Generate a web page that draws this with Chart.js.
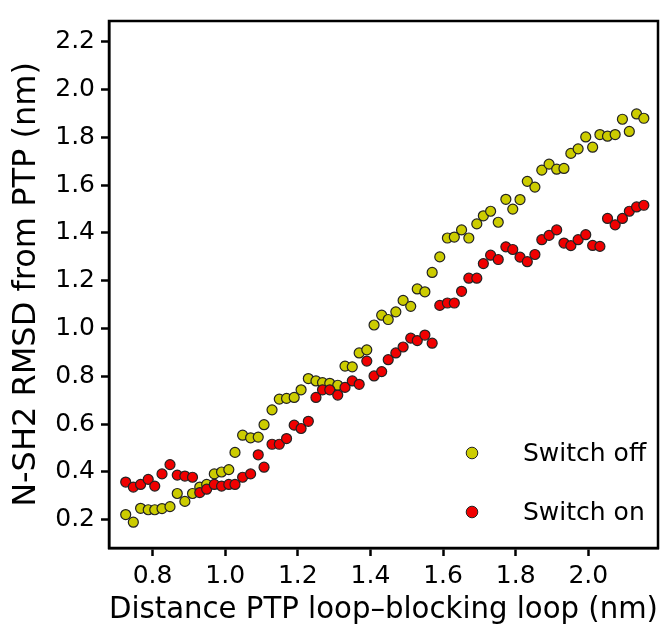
<!DOCTYPE html>
<html>
<head>
    <title>N-SH2 RMSD vs PTP loop distance</title>
    <script src="https://cdn.jsdelivr.net/npm/chart.js@4.4.0/dist/chart.umd.min.js"></script>
    <style>
        html, body { margin: 0; padding: 0; background: #fff; }
    </style>
</head>
<body>
    <canvas id="myChart" width="672" height="633"></canvas>

    <script>
        // Data (nm)
        const distance = [
            0.726, 0.747, 0.767, 0.788, 0.806, 0.826, 0.848, 0.868, 0.889, 0.910,
            0.930, 0.949, 0.970, 0.990, 1.010, 1.027, 1.048, 1.070, 1.091, 1.107,
            1.129, 1.149, 1.169, 1.190, 1.209, 1.229, 1.250, 1.268, 1.288, 1.310,
            1.330, 1.350, 1.369, 1.390, 1.410, 1.431, 1.449, 1.470, 1.490, 1.511,
            1.529, 1.550, 1.570, 1.591, 1.612, 1.631, 1.651, 1.671, 1.693, 1.711,
            1.731, 1.752, 1.773, 1.792, 1.812, 1.832, 1.853, 1.872, 1.892, 1.913,
            1.933, 1.952, 1.972, 1.993, 2.012, 2.032, 2.053, 2.074, 2.094, 2.113,
            2.133, 2.153
        ];
        const switchOff = [
            0.222, 0.190, 0.248, 0.242, 0.242, 0.247, 0.255, 0.310, 0.277, 0.310,
            0.337, 0.348, 0.392, 0.400, 0.410, 0.482, 0.554, 0.543, 0.546, 0.598,
            0.660, 0.705, 0.708, 0.712, 0.744, 0.791, 0.781, 0.774, 0.771, 0.763,
            0.843, 0.840, 0.898, 0.911, 1.015, 1.056, 1.038, 1.070, 1.118, 1.093,
            1.166, 1.154, 1.235, 1.300, 1.379, 1.383, 1.413, 1.379, 1.438, 1.472,
            1.491, 1.445, 1.541, 1.500, 1.540, 1.616, 1.592, 1.663, 1.688, 1.667,
            1.670, 1.733, 1.752, 1.802, 1.759, 1.812, 1.805, 1.812, 1.876, 1.825,
            1.898, 1.880
        ];
        const switchOn = [
            0.358, 0.337, 0.348, 0.369, 0.341, 0.392, 0.431, 0.387, 0.383, 0.378,
            0.314, 0.328, 0.348, 0.341, 0.348, 0.348, 0.378, 0.392, 0.472, 0.420,
            0.516, 0.516, 0.540, 0.596, 0.582, 0.612, 0.712, 0.744, 0.744, 0.722,
            0.754, 0.781, 0.767, 0.864, 0.802, 0.820, 0.870, 0.898, 0.923, 0.960,
            0.950, 0.973, 0.939, 1.097, 1.107, 1.107, 1.156, 1.211, 1.211, 1.272,
            1.307, 1.289, 1.342, 1.331, 1.299, 1.280, 1.310, 1.372, 1.390, 1.413,
            1.358, 1.347, 1.372, 1.393, 1.348, 1.344, 1.461, 1.434, 1.461, 1.491,
            1.509, 1.516
        ];
        const seriesNames = ['Switch off', 'Switch on'];
        const xTicks = [0.8, 1.0, 1.2, 1.4, 1.6, 1.8, 2.0];
        const yTicks = [0.2, 0.4, 0.6, 0.8, 1.0, 1.2, 1.4, 1.6, 1.8, 2.0, 2.2];

        const toPoints = ys => ys.map((y, i) => ({ x: distance[i], y: y }));
        const font = 'DejaVu Sans';

        // box around the plot area
        const frame = {
            id: 'frame',
            afterDraw(chart) {
                const { ctx, chartArea: a } = chart;
                ctx.save();
                ctx.strokeStyle = '#000';
                ctx.lineWidth = 2.5;
                ctx.strokeRect(a.left, a.top, a.right - a.left, a.bottom - a.top);
                ctx.restore();
            }
        };

        // legend drawn inside the lower right corner
        const insideLegend = {
            id: 'insideLegend',
            afterDatasetsDraw(chart) {
                const { ctx, chartArea: a } = chart;
                ctx.save();
                chart.data.datasets.forEach((ds, i) => {
                    const cx = a.right - 186;
                    const cy = a.bottom - 95 + i * 59;
                    ctx.beginPath();
                    ctx.arc(cx, cy, 5.8, 0, Math.PI * 2);
                    ctx.fillStyle = ds.backgroundColor;
                    ctx.fill();
                    ctx.lineWidth = 1;
                    ctx.strokeStyle = '#222';
                    ctx.stroke();
                    ctx.fillStyle = '#000';
                    ctx.font = '25px "' + font + '"';
                    ctx.textBaseline = 'middle';
                    ctx.textAlign = 'left';
                    ctx.fillText(ds.label, a.right - 135, cy + 1);
                });
                ctx.restore();
            }
        };

        const data = {
            datasets: [{
                label: seriesNames[0],
                data: toPoints(switchOff),
                backgroundColor: 'rgb(204, 204, 0)',
                borderColor: '#222',
                borderWidth: 1.2,
                pointRadius: 5,
                order: 1
            }, {
                label: seriesNames[1],
                data: toPoints(switchOn),
                backgroundColor: 'rgb(240, 0, 0)',
                borderColor: '#222',
                borderWidth: 1.2,
                pointRadius: 5,
                order: 0
            }]
        };

        const config = {
            type: 'scatter',
            data: data,
            plugins: [frame, insideLegend],
            options: {
                responsive: false,
                animation: false,
                layout: { padding: { top: 13, right: 14, left: 0, bottom: 0 } },
                plugins: {
                    legend: { display: false },
                    tooltip: { enabled: false }
                },
                scales: {
                    x: {
                        type: 'linear',
                        min: 0.68,
                        max: 2.192,
                        afterBuildTicks: s => { s.ticks = xTicks.map(v => ({ value: v })); },
                        afterFit: s => { s.height = 85; },
                        border: { display: true, color: '#000', width: 2.5 },
                        grid: { drawOnChartArea: false, tickLength: 8, tickWidth: 2.5, tickColor: '#000' },
                        ticks: {
                            color: '#000',
                            padding: 5,
                            font: { family: font, size: 25 },
                            callback: v => v.toFixed(1)
                        },
                        title: {
                            display: true,
                            text: 'Distance PTP loop–blocking loop (nm)',
                            color: '#000',
                            font: { family: font, size: 31 },
                            padding: { top: 0, bottom: 4 }
                        }
                    },
                    y: {
                        type: 'linear',
                        min: 0.082,
                        max: 2.287,
                        afterBuildTicks: s => { s.ticks = yTicks.map(v => ({ value: v })); },
                        afterFit: s => { s.width = 109; },
                        border: { display: true, color: '#000', width: 2.5 },
                        grid: { drawOnChartArea: false, tickLength: 8, tickWidth: 2.5, tickColor: '#000' },
                        ticks: {
                            color: '#000',
                            padding: 6,
                            font: { family: font, size: 25 },
                            callback: v => v.toFixed(1)
                        },
                        title: {
                            display: true,
                            text: 'N-SH2 RMSD from PTP (nm)',
                            color: '#000',
                            font: { family: font, size: 32 },
                            padding: { top: 7, bottom: 0 }
                        }
                    }
                }
            }
        };

        new Chart(document.getElementById('myChart'), config);
    </script>
</body>
</html>
